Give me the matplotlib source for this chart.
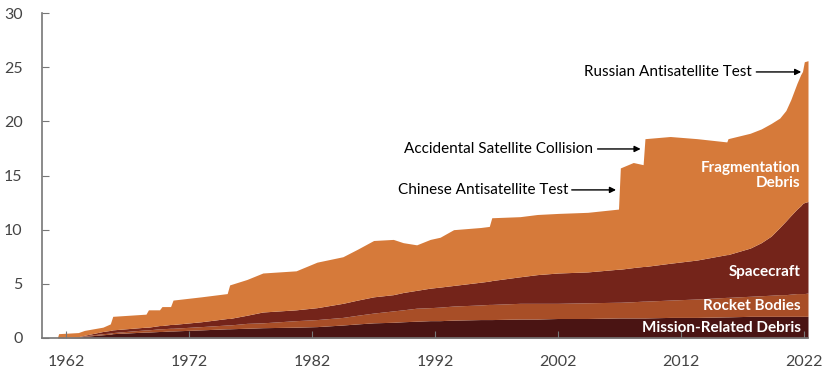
import matplotlib
matplotlib.use("Agg")
import matplotlib.pyplot as plt

plt.rcParams['font.family'] = ['Lato', 'DejaVu Sans']

# cumulative boundaries (thousands of objects)
years = [1961.3, 1961.4, 1963.0, 1963.5, 1965.0, 1965.6, 1965.8, 1968.5, 1968.7,
         1969.6, 1969.8, 1970.5, 1970.7, 1973.0, 1975.1, 1975.3, 1976.7, 1978.0,
         1980.7, 1982.4, 1984.5, 1985.7, 1987.0, 1988.6, 1989.4, 1990.5, 1991.6,
         1992.4, 1993.5, 1995.7, 1996.4, 1996.6, 1998.9, 2000.3, 2002.0, 2004.4,
         2006.9, 2007.05, 2008.1, 2008.9, 2009.05, 2011.1, 2013.3, 2015.7, 2015.8,
         2017.6, 2018.5, 2019.3, 2020.0, 2020.5, 2020.9, 2021.4, 2021.7, 2021.85,
         2022.0, 2022.3]
mission_top = [0, 0, 0.05, 0.15, 0.3, 0.35, 0.4, 0.55, 0.55,
               0.6, 0.6, 0.65, 0.65, 0.75, 0.85, 0.85, 0.9, 0.95,
               1.0, 1.05, 1.2, 1.3, 1.4, 1.45, 1.5, 1.55, 1.6,
               1.6, 1.65, 1.7, 1.7, 1.7, 1.75, 1.75, 1.8, 1.8,
               1.85, 1.85, 1.85, 1.85, 1.85, 1.9, 1.9, 1.95, 1.95,
               2.0, 2.0, 2.0, 2.0, 2.0, 2.0, 2.0, 2.0, 2.0,
               2.0, 2.0]
rocket_top = [0, 0, 0.08, 0.2, 0.4, 0.45, 0.5, 0.75, 0.75,
              0.85, 0.85, 0.9, 0.9, 1.05, 1.2, 1.2, 1.35, 1.4,
              1.6, 1.7, 1.9, 2.1, 2.3, 2.5, 2.6, 2.75, 2.8,
              2.85, 2.95, 3.05, 3.1, 3.1, 3.2, 3.2, 3.2, 3.25,
              3.3, 3.3, 3.35, 3.4, 3.4, 3.5, 3.6, 3.75, 3.75,
              3.85, 3.9, 3.95, 4.0, 4.0, 4.05, 4.1, 4.1, 4.1,
              4.1, 4.15]
spacecraft_top = [0, 0.02, 0.12, 0.25, 0.6, 0.7, 0.75, 1.0, 1.0,
                  1.15, 1.15, 1.25, 1.25, 1.5, 1.8, 1.8, 2.1, 2.4,
                  2.6, 2.8, 3.2, 3.5, 3.8, 4.0, 4.2, 4.4, 4.6,
                  4.7, 4.85, 5.15, 5.25, 5.3, 5.65, 5.85, 6.0, 6.1,
                  6.35, 6.35, 6.5, 6.6, 6.6, 6.9, 7.2, 7.7, 7.7,
                  8.3, 8.8, 9.4, 10.2, 10.8, 11.3, 11.9, 12.2, 12.4,
                  12.5, 12.6]
total = [0, 0.4, 0.5, 0.7, 1.0, 1.3, 2.0, 2.2, 2.6,
         2.6, 2.9, 2.9, 3.5, 3.8, 4.1, 4.9, 5.4, 6.0,
         6.2, 7.0, 7.5, 8.2, 9.0, 9.1, 8.8, 8.6, 9.1,
         9.3, 10.0, 10.2, 10.3, 11.1, 11.2, 11.4, 11.5, 11.6,
         11.9, 15.7, 16.2, 16.0, 18.4, 18.6, 18.4, 18.1, 18.4,
         18.9, 19.3, 19.8, 20.3, 21.0, 22.0, 23.5, 24.3, 24.6,
         25.5, 25.6]

fig = plt.figure(figsize=(8.25, 3.75), dpi=100)
ax = fig.add_axes([0.0509, 0.0987, 0.9285, 0.8666])

c_mission = "#4a1413"
c_rocket = "#a84e27"
c_space = "#74241a"
c_frag = "#d67a3a"

ax.fill_between(years, 0, mission_top, color=c_mission, lw=0)
ax.fill_between(years, mission_top, rocket_top, color=c_rocket, lw=0)
ax.fill_between(years, rocket_top, spacecraft_top, color=c_space, lw=0)
ax.fill_between(years, spacecraft_top, total, color=c_frag, lw=0)

ax.set_xlim(1960.05, 2022.3)
ax.set_ylim(0, 30)
ax.set_xticks([1962, 1972, 1982, 1992, 2002, 2012, 2022])
ax.set_yticks([0, 5, 10, 15, 20, 25, 30])

for s in ["top", "right"]:
    ax.spines[s].set_visible(False)
for s in ["left", "bottom"]:
    ax.spines[s].set_color("#777777")
    ax.spines[s].set_linewidth(1.2)

ax.tick_params(axis="y", direction="in", length=5, color="#777777",
               labelsize=11.5, labelcolor="#444444", pad=14)
ax.tick_params(axis="x", direction="in", length=5, color="#777777",
               labelsize=11.5, labelcolor="#444444", pad=12)

# event annotations
arrow = dict(arrowstyle="-|>", color="black", lw=1, mutation_scale=9,
             shrinkA=0, shrinkB=0)
ax.annotate("", xy=(2021.75, 24.56), xytext=(2018.1, 24.56), arrowprops=arrow)
ax.text(2017.75, 24.56, "Russian Antisatellite Test", ha="right", va="center",
        fontsize=11, color="black")
ax.annotate("", xy=(2008.7, 17.45), xytext=(2005.2, 17.45), arrowprops=arrow)
ax.text(2004.8, 17.45, "Accidental Satellite Collision", ha="right", va="center",
        fontsize=11, color="black")
ax.annotate("", xy=(2006.7, 13.67), xytext=(2003.1, 13.67), arrowprops=arrow)
ax.text(2002.8, 13.67, "Chinese Antisatellite Test", ha="right", va="center",
        fontsize=11, color="black")

# layer labels
lab = dict(ha="right", va="center", fontsize=11, color="white", fontweight="bold")
ax.text(2021.7, 15.0, "Fragmentation\nDebris", linespacing=1.05, **lab)
ax.text(2021.7, 6.1, "Spacecraft", **lab)
ax.text(2021.7, 2.95, "Rocket Bodies", **lab)
ax.text(2021.7, 0.9, "Mission-Related Debris", **lab)

fig.savefig("out.png", dpi=100)
